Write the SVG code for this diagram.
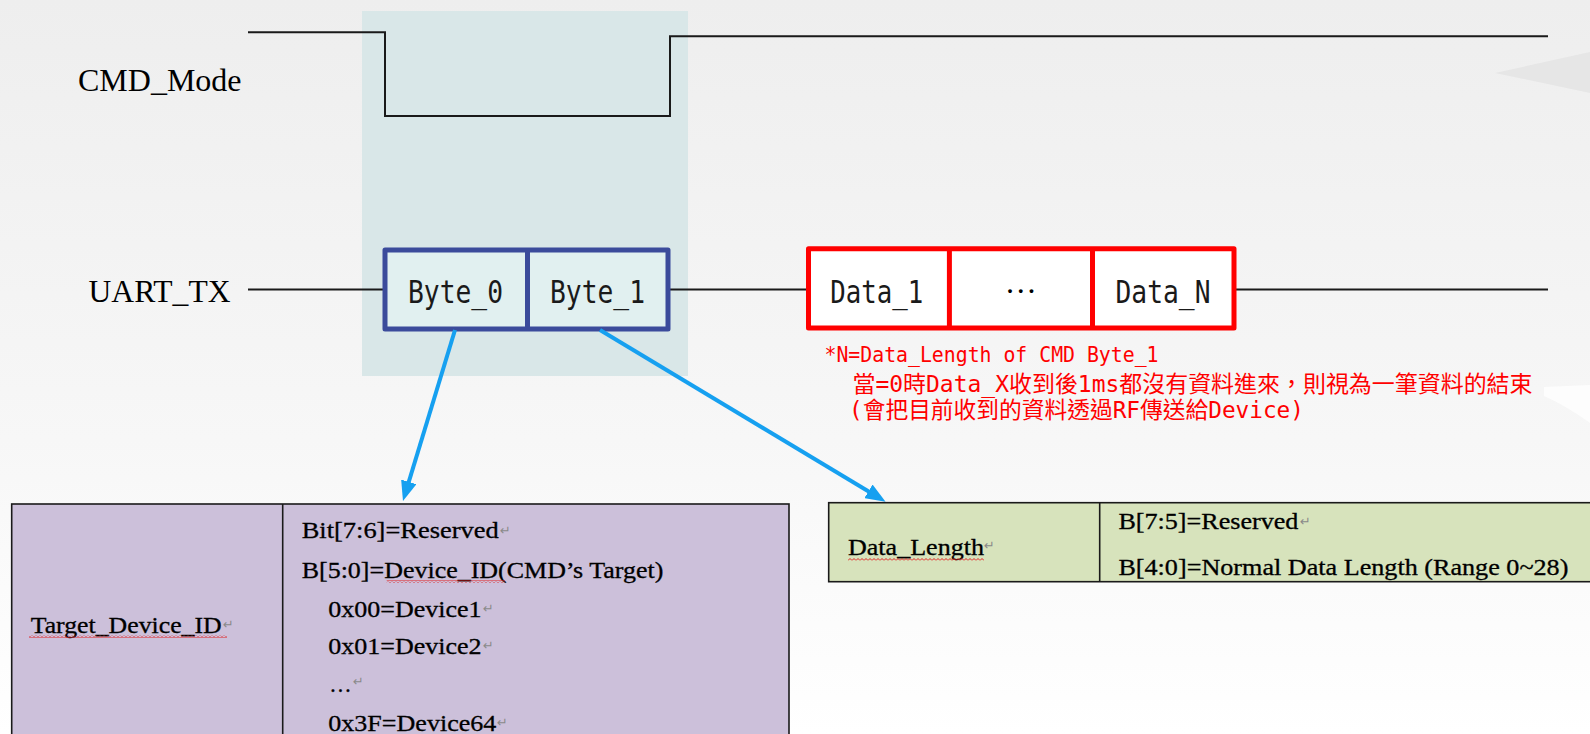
<svg xmlns="http://www.w3.org/2000/svg" width="1590" height="734" viewBox="0 0 1590 734">
<defs>
<linearGradient id="bg" x1="0" y1="0" x2="0" y2="1">
<stop offset="0" stop-color="#eeeeee"/>
<stop offset="0.6" stop-color="#f7f7f7"/>
<stop offset="1" stop-color="#ffffff"/>
</linearGradient>
<pattern id="sq" x="0" y="0" width="4" height="3" patternUnits="userSpaceOnUse">
<path d="M0,2.5 L2,0.5 L4,2.5" fill="none" stroke="#e02020" stroke-width="1"/>
</pattern>
<marker id="ah" viewBox="0 0 20 16" refX="10" refY="8" markerWidth="20" markerHeight="16" markerUnits="userSpaceOnUse" orient="auto">
<path d="M0,0 L20,8 L0,16 Z" fill="#16a0f0"/>
</marker>
</defs>
<style>
.sig{fill:none;stroke:#1a1a1a;stroke-width:2}
.lbl{font-family:"Liberation Serif","Times New Roman",serif;font-size:32px;fill:#000}
.mono{font-family:"DejaVu Sans Mono","Liberation Mono",monospace;font-size:32px;fill:#1a1a1a}
.bytebox{fill:#e1f0f0;stroke:#3b4b9b;stroke-width:5;stroke-linejoin:round}
.databox{fill:#ffffff;stroke:#ff0000;stroke-width:5;stroke-linejoin:round}
.note{font-family:"DejaVu Sans Mono","Noto Sans CJK TC",monospace;fill:#ff0000}
.tb{font-family:"Liberation Serif","Times New Roman",serif;font-size:23px;fill:#000;stroke:#000;stroke-width:0.3}
.rt{font-family:"DejaVu Sans","Liberation Serif",sans-serif;font-size:13px;fill:#8a8a8a}
.arrow{fill:none;stroke:#16a0f0;stroke-width:4;marker-end:url(#ah)}
.cell{stroke:#1a1a1a;stroke-width:1.6}
</style>
<rect x="0" y="0" width="1590" height="734" fill="url(#bg)"/>
<g id="decor">
<path d="M1495,73 L1590,52 L1590,93 Z" fill="#e6e6e6"/>
<path d="M1544,387 L1590,385 L1590,423 Q1565,405 1544,396 Z" fill="#fdfdfd"/>
</g>
<rect id="cmd-window" x="362" y="11" width="326" height="365" fill="#d9e7e8"/>
<g id="signals">
<path class="sig" d="M248,32.3 H385 V116 H670 V36.3 H1548"/>
<path class="sig" d="M248,289.5 H383 M670,289.5 H806 M1236,289.5 H1548"/>
</g>
<g id="label-cmd"><text class="lbl" x="78" y="91">CMD_Mode</text></g>
<g id="label-uart"><text class="lbl" x="88.5" y="301.7" textLength="142" lengthAdjust="spacingAndGlyphs">UART_TX</text></g>
<g id="cmd-bytes">
<rect class="bytebox" x="385" y="250" width="283" height="79"/>
<line x1="527.5" y1="250" x2="527.5" y2="329" stroke="#3b4b9b" stroke-width="5"/>
<text class="mono" x="455.5" y="302.5" text-anchor="middle" textLength="95" lengthAdjust="spacingAndGlyphs">Byte_0</text>
<text class="mono" x="597.5" y="302.5" text-anchor="middle" textLength="95" lengthAdjust="spacingAndGlyphs">Byte_1</text>
</g>
<g id="data-bytes">
<rect class="databox" x="808.5" y="248.7" width="425.5" height="79.3"/>
<line x1="949.4" y1="248.7" x2="949.4" y2="328" stroke="#ff0000" stroke-width="5"/>
<line x1="1092.5" y1="248.7" x2="1092.5" y2="328" stroke="#ff0000" stroke-width="5"/>
<text class="mono" x="876.8" y="302.5" text-anchor="middle" textLength="93" lengthAdjust="spacingAndGlyphs">Data_1</text>
<text class="lbl" x="1020.8" y="293" text-anchor="middle" font-size="30">…</text>
<text class="mono" x="1163" y="302.5" text-anchor="middle" textLength="95" lengthAdjust="spacingAndGlyphs">Data_N</text>
</g>
<g id="note">
<text class="note" x="824.5" y="361.7" font-size="21" textLength="334" lengthAdjust="spacingAndGlyphs">*N=Data_Length of CMD Byte_1</text>
<text class="note" x="852.5" y="391.5" font-size="23" textLength="680" lengthAdjust="spacingAndGlyphs">當=0時Data_X收到後1ms都沒有資料進來，則視為一筆資料的結束</text>
<text class="note" x="849" y="418" font-size="23" textLength="455" lengthAdjust="spacingAndGlyphs">(會把目前收到的資料透過RF傳送給Device)</text>
</g>
<g id="connectors">
<line class="arrow" x1="455" y1="330" x2="405.9" y2="491.4"/>
<line class="arrow" x1="600" y1="330" x2="877" y2="496.5"/>
</g>
<g id="table-target">
<rect class="cell" x="11.7" y="504" width="777.3" height="240" fill="#ccc0da"/>
<line class="cell" x1="282.7" y1="504" x2="282.7" y2="734"/>
<text class="tb" x="30.7" y="632.7" textLength="191" lengthAdjust="spacingAndGlyphs">Target_Device_ID</text>
<rect x="29" y="635" width="198" height="3" fill="url(#sq)"/>
<text class="rt" x="223" y="629">↵</text>
<text class="tb" x="301.7" y="538.3" textLength="197" lengthAdjust="spacingAndGlyphs">Bit[7:6]=Reserved</text>
<text class="rt" x="500" y="535">↵</text>
<text class="tb" x="301.7" y="578.3" textLength="361.7" lengthAdjust="spacingAndGlyphs">B[5:0]=Device_ID(CMD’s Target)</text>
<rect x="386.7" y="580" width="118.3" height="3" fill="url(#sq)"/>
<text class="tb" x="328.3" y="616.7" textLength="153.3" lengthAdjust="spacingAndGlyphs">0x00=Device1</text>
<text class="rt" x="483" y="613">↵</text>
<text class="tb" x="328.3" y="654" textLength="153.3" lengthAdjust="spacingAndGlyphs">0x01=Device2</text>
<text class="rt" x="483" y="650">↵</text>
<text class="tb" x="329.3" y="691.7" textLength="22.4" lengthAdjust="spacingAndGlyphs">…</text>
<text class="rt" x="353" y="686">↵</text>
<text class="tb" x="328.3" y="730.7" textLength="168" lengthAdjust="spacingAndGlyphs">0x3F=Device64</text>
<text class="rt" x="497" y="727">↵</text>
</g>
<g id="table-length">
<rect class="cell" x="828.7" y="502.7" width="780" height="79" fill="#d7e3bc"/>
<line class="cell" x1="1099.7" y1="502.7" x2="1099.7" y2="581.7"/>
<text class="tb" x="848" y="554.5" textLength="136" lengthAdjust="spacingAndGlyphs">Data_Length</text>
<rect x="848" y="558" width="136" height="3" fill="url(#sq)"/>
<text class="rt" x="984" y="550">↵</text>
<text class="tb" x="1118.4" y="529.3" textLength="180" lengthAdjust="spacingAndGlyphs">B[7:5]=Reserved</text>
<text class="rt" x="1300" y="526">↵</text>
<text class="tb" x="1118.4" y="575" textLength="450" lengthAdjust="spacingAndGlyphs">B[4:0]=Normal Data Length (Range 0~28)</text>
</g>
</svg>
